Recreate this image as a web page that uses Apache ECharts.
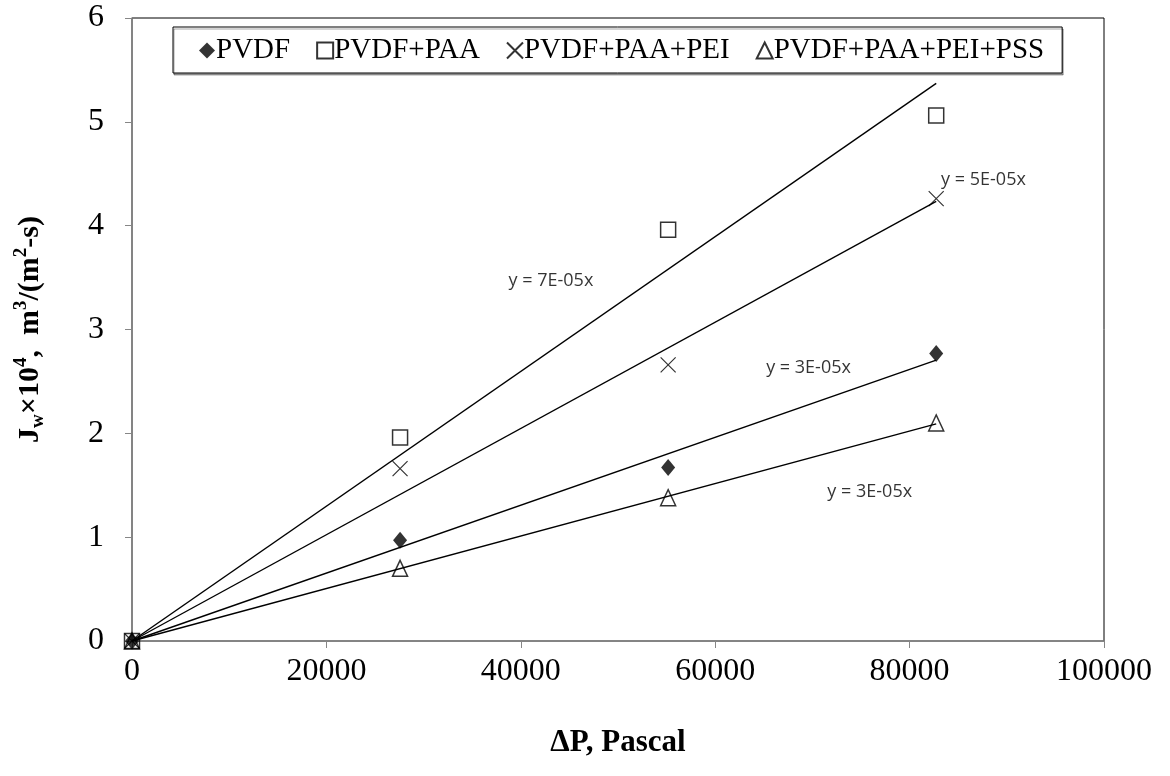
<!DOCTYPE html>
<html>
<head>
<meta charset="utf-8">
<style>
  html, body { margin: 0; padding: 0; background: #fff; }
  #chart { width: 1170px; height: 776px; }
</style>
<script src="https://cdn.jsdelivr.net/npm/echarts@6/dist/echarts.min.js"></script>
</head>
<body>
<div id="chart"></div>
<script>
// Transmembrane pressure (Pa) and measured water flux (×10^4 m³/(m²·s))
const pressure = [0, 27579, 55158, 82737];
const fluxPVDF = [0, 0.97, 1.67, 2.77];
const fluxPAA = [0, 1.96, 3.96, 5.06];
const fluxPEI = [0, 1.66, 2.66, 4.26];
const fluxPSS = [0, 0.70, 1.38, 2.10];

const seriesNames = ['PVDF', 'PVDF+PAA', 'PVDF+PAA+PEI', 'PVDF+PAA+PEI+PSS'];
const trendText = ['y = 3E-05x', 'y = 7E-05x', 'y = 5E-05x', 'y = 3E-05x'];
// where each trend equation is written, in axis units
const trendTextAt = [[69600, 2.63], [43100, 3.47], [87600, 4.44], [75900, 1.44]];

const fluxSets = [fluxPVDF, fluxPAA, fluxPEI, fluxPSS];

const serif = 'Liberation Serif';
const crossPath = 'path://M0,0L10,10M10,0L0,10';

const markerStyles = [
  { symbol: 'diamond', symbolSize: [14, 17], itemStyle: { color: '#000', borderColor: '#000', borderWidth: 0 } },
  { symbol: 'rect', symbolSize: 15, itemStyle: { color: 'rgba(255,255,255,0)', borderColor: '#000', borderWidth: 1.5 } },
  { symbol: crossPath, symbolSize: 15, itemStyle: { color: 'rgba(255,255,255,0)', borderColor: '#000', borderWidth: 1.2 } },
  { symbol: 'triangle', symbolSize: [15, 16], itemStyle: { color: 'rgba(255,255,255,0)', borderColor: '#000', borderWidth: 1.5 } }
];

// least-squares slope of a line forced through the origin
function slopeThroughOrigin(xs, ys) {
  let sxy = 0, sxx = 0;
  for (let i = 0; i < xs.length; i++) { sxy += xs[i] * ys[i]; sxx += xs[i] * xs[i]; }
  return sxy / sxx;
}

const xMax = Math.max(...pressure);
const series = [];

fluxSets.forEach((ys, i) => {
  const k = slopeThroughOrigin(pressure, ys);
  series.push({
    name: seriesNames[i] + ' fit',
    type: 'line',
    data: [[0, 0], [xMax, k * xMax]],
    symbol: 'none',
    silent: true,
    lineStyle: { color: '#000', width: 1.4 },
    z: 2
  });
  series.push({
    name: 'eq' + i,
    type: 'scatter',
    data: [trendTextAt[i]],
    symbolSize: 0,
    silent: true,
    label: {
      show: true,
      position: 'inside',
      formatter: trendText[i],
      fontFamily: 'Open Sans',
      fontSize: 18,
      color: '#000'
    },
    z: 3
  });
});

fluxSets.forEach((ys, i) => {
  series.push(Object.assign({
    name: seriesNames[i],
    type: 'scatter',
    data: pressure.map((x, j) => [x, ys[j]]),
    z: 5
  }, markerStyles[i]));
});

const chart = echarts.init(document.getElementById('chart'), null, { renderer: 'canvas' });
chart.setOption({
  backgroundColor: '#fff',
  animation: false,
  grid: {
    left: 132, right: 66, top: 18, bottom: 135,
    show: true, borderColor: '#000', borderWidth: 1, backgroundColor: 'transparent'
  },
  legend: {
    data: seriesNames.map((n) => ({ name: n })),
    left: 173, top: 27,
    padding: [9, 18, 8, 26],
    borderColor: '#000', borderWidth: 1,
    backgroundColor: '#fff',
    shadowColor: 'rgba(0,0,0,0.35)', shadowOffsetX: 1, shadowOffsetY: 2,
    itemWidth: 16, itemHeight: 16, itemGap: 26,
    textStyle: { fontFamily: serif, fontSize: 29, color: '#000', padding: [0, 0, 0, -4] }
  },
  xAxis: {
    type: 'value', min: 0, max: 100000, interval: 20000,
    name: 'ΔP, Pascal', nameLocation: 'middle', nameGap: 86,
    nameTextStyle: { fontFamily: serif, fontWeight: 'bold', fontSize: 31, color: '#000' },
    axisLine: { onZero: false, lineStyle: { color: '#868686', width: 1.5 } },
    axisTick: { show: true, length: 7, lineStyle: { color: '#868686' } },
    axisLabel: { fontFamily: serif, fontSize: 32, color: '#000', margin: 15, formatter: (v) => String(v) },
    splitLine: { show: false }
  },
  yAxis: {
    type: 'value', min: 0, max: 6, interval: 1,
    name: '{b|J}{sub|w}{b|×10}{sup|4}{b|,  m}{sup|3}{b|/(m}{sup|2}{b|-s)}',
    nameLocation: 'middle', nameGap: 84, nameRotate: 90,
    nameTextStyle: {
      fontFamily: serif, fontWeight: 'bold', fontSize: 30, color: '#000',
      rich: {
        b: { fontFamily: serif, fontWeight: 'bold', fontSize: 30, color: '#000', lineHeight: 36 },
        sub: { fontFamily: serif, fontWeight: 'bold', fontSize: 19, color: '#000', verticalAlign: 'bottom', lineHeight: 19 },
        sup: { fontFamily: serif, fontWeight: 'bold', fontSize: 19, color: '#000', verticalAlign: 'top', lineHeight: 19 }
      }
    },
    axisLine: { show: true, onZero: false, lineStyle: { color: '#868686', width: 1.5 } },
    axisTick: { show: true, length: 7, lineStyle: { color: '#868686' } },
    axisLabel: { fontFamily: serif, fontSize: 32, color: '#000', margin: 28 },
    splitLine: { show: false }
  },
  series: series
});
</script>
</body>
</html>
